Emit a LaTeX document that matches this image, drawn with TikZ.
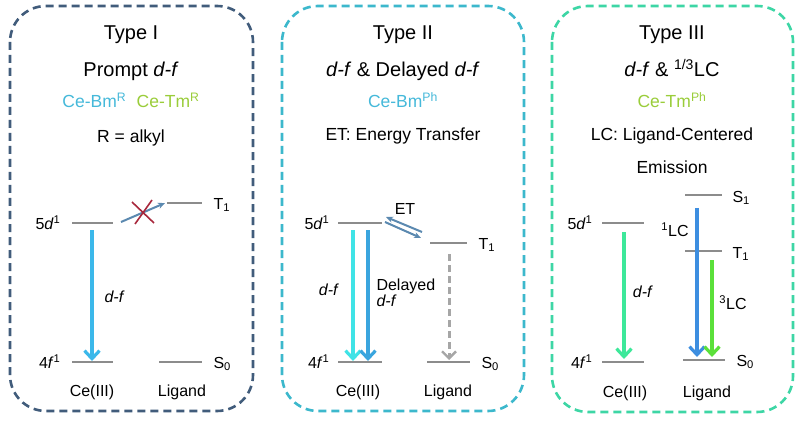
\documentclass[tikz,border=0pt]{standalone}
\usepackage{fontspec}
\setmainfont{Liberation Sans}
\usetikzlibrary{arrows.meta}
\definecolor{boxA}{HTML}{415C7B}
\definecolor{boxB}{HTML}{3CB8CC}
\definecolor{boxC}{HTML}{3DD6A5}
\definecolor{cebm}{HTML}{45B9DA}
\definecolor{cetm}{HTML}{9ACD3A}
\definecolor{lvl}{HTML}{8C8C8C}
\definecolor{arrI}{HTML}{3BB8EA}
\definecolor{etc}{HTML}{5B89B0}
\definecolor{xred}{HTML}{A8283C}
\definecolor{arrIIa}{HTML}{3FE3E6}
\definecolor{arrIIb}{HTML}{3AA5DE}
\definecolor{dgray}{HTML}{A6A6A6}
\definecolor{arrIIIa}{HTML}{3DE89A}
\definecolor{arrIIIb}{HTML}{3D8EE0}
\definecolor{arrIIIc}{HTML}{5BE03A}
\tikzset{
  panel/.style={line width=2.6pt, dash pattern=on 8pt off 5pt, rounded corners=36pt},
  ttl/.style={font=\fontsize{20}{22}\selectfont, anchor=base},
  sub/.style={font=\fontsize{17.5}{20}\selectfont, anchor=base},
  lab/.style={font=\fontsize{16}{18}\selectfont},
  level/.style={draw=lvl, line width=2.6pt},
  emis/.style={line width=4.2pt, -{Straight Barb[length=8pt,width=15pt,line width=3.2pt]}},
  thin/.style={draw=etc, line width=2pt, -{Stealth[length=7pt,width=6pt]}},
}
\begin{document}
\begin{tikzpicture}[x=1pt,y=-1pt]
\useasboundingbox (0,0) rectangle (800,422);
\fill[white] (0,0) rectangle (800,422);
% panels
\draw[panel, boxA] (10,6) rectangle (253,411);
\draw[panel, boxB] (282,6) rectangle (524,411);
\draw[panel, boxC] (552,6) rectangle (793,412);

% ---------- Type I ----------
\node[ttl] (t1) at (131,40) {Type I};
\node[ttl] (t1b) at (131,77) {Prompt \textit{d-f}};
\node[sub] (t1c) at (131,108) {\textcolor{cebm}{Ce-Bm\textsuperscript{R}}\hspace{0.6em}\textcolor{cetm}{Ce-Tm\textsuperscript{R}}};
\node[sub] (t1d) at (131,143) {R = alkyl};

\coordinate (Ad5a) at (72,223); \coordinate (Ad5b) at (113,223);
\coordinate (Af4a) at (72,362); \coordinate (Af4b) at (113,362);
\coordinate (AT1a) at (167,203); \coordinate (AT1b) at (202,203);
\coordinate (AS0a) at (159,362); \coordinate (AS0b) at (202,362);
\draw[level] (Ad5a) -- (Ad5b);
\draw[level] (Af4a) -- (Af4b);
\draw[level] (AT1a) -- (AT1b);
\draw[level] (AS0a) -- (AS0b);
\node[lab, anchor=east] (A5d) at (64,223) {5\textit{d}\textsuperscript{1}};
\node[lab, anchor=east] (A4f) at (64,362) {4\textit{f}\textsuperscript{1}};
\node[lab, anchor=west] (AT1) at (210,205) {T\textsubscript{1}};
\node[lab, anchor=west] (AS0) at (210,364) {S\textsubscript{0}};
\node[lab] (ACe) at (92,392) {Ce(III)};
\node[lab] (ALg) at (182,392) {Ligand};
\coordinate (AdfS) at (92,230); \coordinate (AdfE) at (92,361);
\draw[emis, arrI] (AdfS) -- (AdfE);
\node[lab, anchor=west] (Adf) at (101,297) {\textit{d-f}};
\coordinate (AetS) at (121,222); \coordinate (AetE) at (165,203);
\draw[thin] (AetS) -- (AetE);
\coordinate (AxA) at (132,202); \coordinate (AxB) at (154,223);
\coordinate (AxC) at (135,224); \coordinate (AxD) at (152,200);
\draw[xred, line width=1.6pt] (AxA) -- (AxB) (AxC) -- (AxD);

% ---------- Type II ----------
\node[ttl] (t2) at (403,40) {Type II};
\node[ttl] (t2b) at (403,77) {\textit{d-f} \& Delayed \textit{d-f}};
\node[sub] (t2c) at (403,108) {\textcolor{cebm}{Ce-Bm\textsuperscript{Ph}}};
\node[sub] (t2d) at (403,141) {ET: Energy Transfer};

\coordinate (Bd5a) at (338,223); \coordinate (Bd5b) at (382,223);
\coordinate (Bf4a) at (338,362); \coordinate (Bf4b) at (382,362);
\coordinate (BT1a) at (430,243); \coordinate (BT1b) at (467,243);
\coordinate (BS0a) at (427,362); \coordinate (BS0b) at (470,362);
\draw[level] (Bd5a) -- (Bd5b);
\draw[level] (Bf4a) -- (Bf4b);
\draw[level] (BT1a) -- (BT1b);
\draw[level] (BS0a) -- (BS0b);
\node[lab, anchor=east] (B5d) at (333,223) {5\textit{d}\textsuperscript{1}};
\node[lab, anchor=east] (B4f) at (333,362) {4\textit{f}\textsuperscript{1}};
\node[lab, anchor=west] (BT1) at (475,245) {T\textsubscript{1}};
\node[lab, anchor=west] (BS0) at (478,364) {S\textsubscript{0}};
\node[lab] (BCe) at (358,392) {Ce(III)};
\node[lab] (BLg) at (448,392) {Ligand};
\node[lab] (BET) at (405,209) {ET};
\coordinate (BuS) at (422,232); \coordinate (BuE) at (386,217);
\coordinate (BlS) at (385,222); \coordinate (BlE) at (421,238);
\draw[thin] (BuS) -- (BuE);
\draw[thin] (BlS) -- (BlE);
\coordinate (BaS) at (353,230); \coordinate (BaE) at (353,361);
\coordinate (BbS) at (368,230); \coordinate (BbE) at (368,361);
\draw[emis, arrIIa] (BaS) -- (BaE);
\draw[emis, arrIIb] (BbS) -- (BbE);
\coordinate (BgS) at (449,254); \coordinate (BgE) at (449,360);
\draw[dgray, line width=3pt, dash pattern=on 7pt off 4pt, -{Straight Barb[length=7pt,width=14pt,line width=2.4pt]}] (BgS) -- (BgE);
\node[lab] (Bdf) at (329,290) {\textit{d-f}};
\node[lab, anchor=west, align=left] (Bdel) at (373,293) {Delayed\\[-2pt]\textit{d-f}};

% ---------- Type III ----------
\node[ttl] (t3) at (672,40) {Type III};
\node[ttl] (t3b) at (672,77) {\textit{d-f} \& \textsuperscript{1/3}LC};
\node[sub] (t3c) at (672,108) {\textcolor{cetm}{Ce-Tm\textsuperscript{Ph}}};
\node[sub] (t3d) at (672,141) {LC: Ligand-Centered};
\node[sub] (t3e) at (672,174) {Emission};

\coordinate (Cd5a) at (602,223); \coordinate (Cd5b) at (644,223);
\coordinate (Cf4a) at (602,362); \coordinate (Cf4b) at (644,362);
\coordinate (CS1a) at (685,195); \coordinate (CS1b) at (722,195);
\coordinate (CT1a) at (685,251); \coordinate (CT1b) at (722,251);
\coordinate (CS0a) at (683,360); \coordinate (CS0b) at (725,360);
\draw[level] (Cd5a) -- (Cd5b);
\draw[level] (Cf4a) -- (Cf4b);
\draw[level] (CS1a) -- (CS1b);
\draw[level] (CT1a) -- (CT1b);
\draw[level] (CS0a) -- (CS0b);
\node[lab, anchor=east] (C5d) at (596,223) {5\textit{d}\textsuperscript{1}};
\node[lab, anchor=east] (C4f) at (596,362) {4\textit{f}\textsuperscript{1}};
\node[lab, anchor=west] (CS1) at (729,198) {S\textsubscript{1}};
\node[lab, anchor=west] (CT1) at (729,254) {T\textsubscript{1}};
\node[lab, anchor=west] (CS0) at (733,362) {S\textsubscript{0}};
\node[lab] (CCe) at (625,393) {Ce(III)};
\node[lab] (CLg) at (707,393) {Ligand};
\coordinate (CaS) at (624,232); \coordinate (CaE) at (624,359);
\coordinate (CbS) at (697,208); \coordinate (CbE) at (697,357);
\coordinate (CcS) at (712,260); \coordinate (CcE) at (712,357);
\draw[emis, arrIIIa] (CaS) -- (CaE);
\draw[emis, arrIIIb] (CbS) -- (CbE);
\draw[emis, arrIIIc] (CcS) -- (CcE);
\node[lab] (Cdf) at (643,292) {\textit{d-f}};
\node[lab] (C1LC) at (675,230) {\textsuperscript{1}LC};
\node[lab] (C3LC) at (733,303) {\textsuperscript{3}LC};
\end{tikzpicture}
\end{document}
